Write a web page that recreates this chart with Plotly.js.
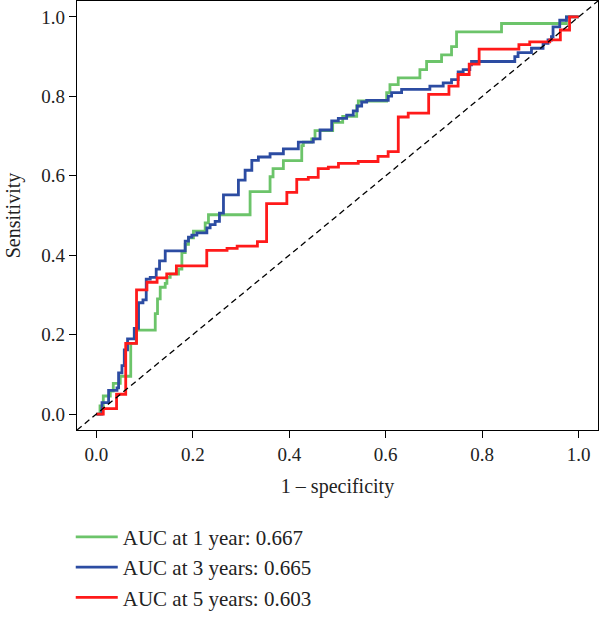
<!DOCTYPE html>
<html>
<head>
<meta charset="utf-8">
<script src="https://cdn.plot.ly/plotly-3.0.1.min.js"></script>
<style>html,body{margin:0;padding:0;background:#fff;}#chart{width:600px;height:619px;}</style>
</head>
<body>
<div id="chart"></div>
<script>
// ROC curve points (1 - specificity, sensitivity)
const fpr1 = [0, 0.0077, 0.0145, 0.029, 0.0352, 0.0497, 0.0714, 0.0828, 0.1222, 0.1269, 0.1325, 0.1429, 0.1464, 0.1532, 0.1704, 0.1774, 0.1843, 0.1911, 0.2014, 0.2257, 0.2325, 0.3188, 0.3602, 0.3664, 0.3878, 0.4259, 0.4292, 0.4466, 0.4534, 0.49, 0.5108, 0.5398, 0.5431, 0.6019, 0.6087, 0.6259, 0.6708, 0.6847, 0.7157, 0.7364, 0.7468, 0.84, 0.9745, 1.0];
const tpr1 = [0, 0.0207, 0.0456, 0.058, 0.0772, 0.0953, 0.1782, 0.2116, 0.2529, 0.2903, 0.3194, 0.3293, 0.3443, 0.3525, 0.365, 0.4065, 0.4272, 0.4439, 0.4605, 0.4812, 0.5019, 0.5601, 0.5975, 0.6181, 0.638, 0.6761, 0.6846, 0.6928, 0.7135, 0.7344, 0.7493, 0.7757, 0.7882, 0.8091, 0.8297, 0.8464, 0.8671, 0.8877, 0.9044, 0.9251, 0.9624, 0.9833, 1.0, 1.0];

const fpr3 = [0, 0.0118, 0.0255, 0.0429, 0.0462, 0.0532, 0.058, 0.0648, 0.0787, 0.0876, 0.0967, 0.1035, 0.1118, 0.1242, 0.1311, 0.1429, 0.1843, 0.1911, 0.1981, 0.2085, 0.2292, 0.236, 0.2464, 0.2553, 0.2636, 0.2946, 0.3085, 0.3224, 0.336, 0.3602, 0.3878, 0.4188, 0.4499, 0.4638, 0.488, 0.5017, 0.519, 0.5327, 0.541, 0.5501, 0.5605, 0.6052, 0.6122, 0.6329, 0.6915, 0.7191, 0.7364, 0.7501, 0.7605, 0.7743, 0.7778, 0.8675, 0.8743, 0.9021, 0.9261, 0.9364, 0.9435, 0.9468, 0.9607, 0.9745, 1.0];
const tpr3 = [0, 0.029, 0.0597, 0.0662, 0.1036, 0.122, 0.1618, 0.1892, 0.2156, 0.2803, 0.2878, 0.34, 0.3443, 0.365, 0.3859, 0.4108, 0.4357, 0.4456, 0.4506, 0.4563, 0.4688, 0.477, 0.4854, 0.5061, 0.5517, 0.589, 0.6139, 0.6388, 0.6473, 0.6555, 0.6679, 0.6846, 0.6928, 0.7152, 0.7384, 0.7443, 0.7526, 0.7633, 0.7757, 0.7857, 0.7899, 0.8006, 0.8091, 0.8173, 0.8255, 0.834, 0.8422, 0.8613, 0.8671, 0.8795, 0.8877, 0.9002, 0.9101, 0.9211, 0.9335, 0.9418, 0.95, 0.9748, 0.9916, 1.0, 1.0];

const fpr5 = [0, 0.0145, 0.042, 0.061, 0.0834, 0.105, 0.126, 0.146, 0.166, 0.229, 0.271, 0.292, 0.334, 0.353, 0.395, 0.4155, 0.4395, 0.46, 0.481, 0.502, 0.543, 0.584, 0.605, 0.626, 0.6466, 0.689, 0.731, 0.75, 0.773, 0.7936, 0.876, 0.8985, 0.94, 0.962, 0.981, 1.0];
const tpr5 = [0, 0.014, 0.05, 0.178, 0.313, 0.332, 0.343, 0.353, 0.373, 0.412, 0.417, 0.423, 0.434, 0.53, 0.558, 0.591, 0.596, 0.618, 0.622, 0.631, 0.636, 0.649, 0.661, 0.748, 0.7575, 0.805, 0.8255, 0.855, 0.881, 0.9186, 0.93, 0.937, 0.942, 0.967, 1.0, 1.0];

const seriesNames = ["AUC at 1 year: 0.667", "AUC at 3 years: 0.665", "AUC at 5 years: 0.603"];
const refLine = [-0.04, 1.04];
const tickVals = [0, 0.2, 0.4, 0.6, 0.8, 1.0];
const tickText = ["0.0", "0.2", "0.4", "0.6", "0.8", "1.0"];

const FONT = "Liberation Serif, Times New Roman, serif";
const colors = ["#6cc46a", "#2c4ca2", "#ff1a1a"];

const traces = [
  {x: fpr1, y: tpr1, name: seriesNames[0], legendgroup: "g1"},
  {x: fpr3, y: tpr3, name: seriesNames[1], legendgroup: "g3"},
  {x: fpr5, y: tpr5, name: seriesNames[2], legendgroup: "g5"}
].map((t, i) => Object.assign(t, {
  type: "scatter", mode: "lines",
  line: {color: colors[i], width: 2.8, shape: "hv"}
}));

traces.push({
  x: refLine, y: refLine, type: "scatter", mode: "lines",
  line: {color: "#000", width: 1.3, dash: "6px,4px"},
  showlegend: false, hoverinfo: "skip"
});

const axisCommon = {
  range: [-0.04, 1.04], autorange: false,
  tickvals: tickVals, ticktext: tickText,
  ticks: "outside", ticklen: 7, tickwidth: 1.2, tickcolor: "#000",
  showline: true, linecolor: "#000", linewidth: 1.3, mirror: true,
  showgrid: false, zeroline: false,
  tickfont: {family: FONT, size: 19, color: "#222"},
  automargin: false
};

const layout = {
  width: 600, height: 619,
  margin: {l: 77, r: 2, t: 1, b: 184},
  paper_bgcolor: "#fff", plot_bgcolor: "#fff",
  font: {family: FONT, size: 19, color: "#222"},
  xaxis: Object.assign({}, axisCommon, {
    title: {text: "1 \u2013 specificity", font: {family: FONT, size: 20, color: "#222"}, standoff: 15}
  }),
  yaxis: Object.assign({}, axisCommon, {
    title: {text: "Sensitivity", font: {family: FONT, size: 20, color: "#222"}, standoff: 15}
  }),
  showlegend: true,
  legend: {
    x: -0.012, xanchor: "left", y: -0.202, yanchor: "top",
    orientation: "v", bgcolor: "rgba(0,0,0,0)", borderwidth: 0,
    font: {family: FONT, size: 21, color: "#222"},
    itemwidth: 42,
    tracegroupgap: 11, traceorder: "normal"
  }
};

Plotly.newPlot("chart", traces, layout, {staticPlot: true, displayModeBar: false});
</script>
</body>
</html>
